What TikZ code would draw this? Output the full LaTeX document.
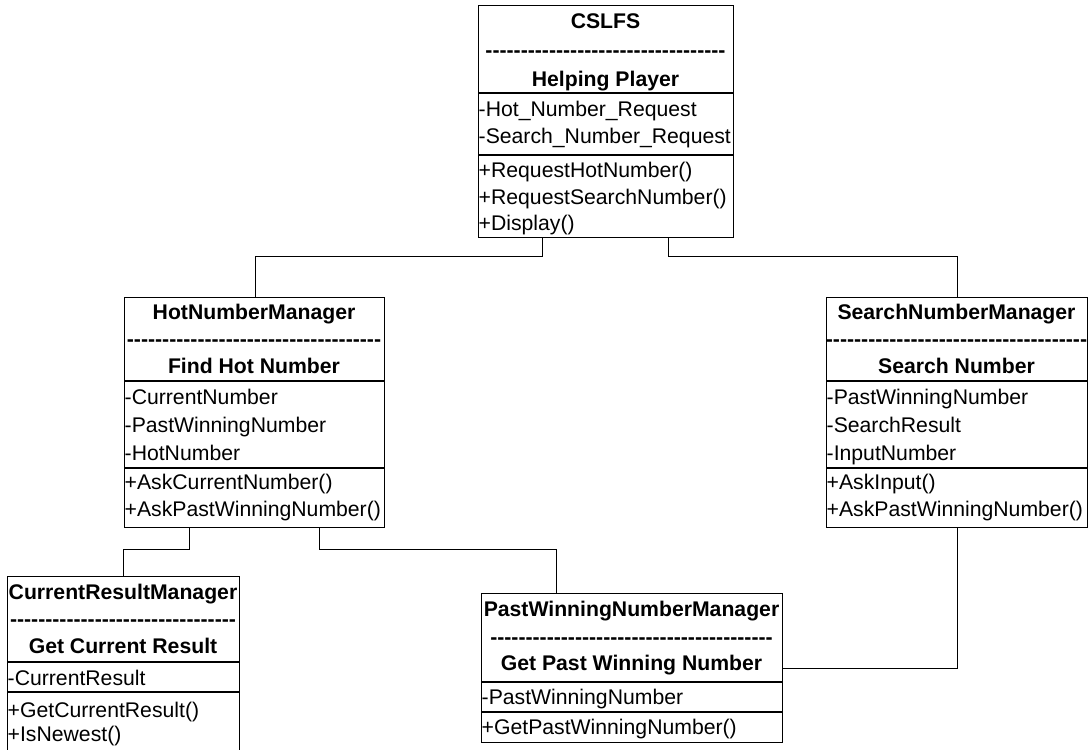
\documentclass[tikz,border=0pt]{standalone}
\usepackage{fontspec}
\setmainfont{Liberation Sans}
\newcommand\umlfont{\fontsize{21.2}{25}\selectfont}
\newcommand\umldashes[1]{\foreach \k in {1,...,#1}{\mbox{-}}}
\begin{document}
\begin{tikzpicture}[x=1pt,y=-1pt,
  box/.style={draw, line width=1.3pt, inner sep=0pt, anchor=north west},
  sep/.style={line width=1.3pt},
  conn/.style={line width=1pt},
  title/.style={anchor=base, inner sep=0pt, font=\umlfont\bfseries},
  member/.style={anchor=base west, inner sep=0pt, font=\umlfont},
]
\useasboundingbox (0,0) rectangle (1088,750);
\clip (0,0) rectangle (1088,750);

% ---------- CSLFS ----------
\node[box, minimum width=255pt, minimum height=232pt] (cslfs) at (478,5) {};
\draw[sep] (478,93) -- (733,93);
\draw[sep] (478,155) -- (733,155);
\node[title] (cslfsT1) at (605.5,28) {CSLFS};
\node[title] (cslfsT2) at (605.5,57) {\umldashes{34}};
\node[title] (cslfsT3) at (605.5,86) {Helping Player};
\node[member] (cslfsA1) at (478.5,116) {-Hot\_Number\_Request};
\node[member] (cslfsA2) at (478.5,143) {-Search\_Number\_Request};
\node[member] (cslfsM1) at (478.5,177) {+RequestHotNumber()};
\node[member] (cslfsM2) at (478.5,204) {+RequestSearchNumber()};
\node[member] (cslfsM3) at (478.5,230) {+Display()};

% ---------- HotNumberManager ----------
\node[box, minimum width=260pt, minimum height=230pt] (hnm) at (124,297) {};
\draw[sep] (124,381) -- (384,381);
\draw[sep] (124,468) -- (384,468);
\node[title] (hnmT1) at (254,319) {HotNumberManager};
\node[title] (hnmT2) at (254,346) {\umldashes{36}};
\node[title] (hnmT3) at (254,373) {Find Hot Number};
\node[member] (hnmA1) at (124.5,404) {-CurrentNumber};
\node[member] (hnmA2) at (124.5,432) {-PastWinningNumber};
\node[member] (hnmA3) at (124.5,460) {-HotNumber};
\node[member] (hnmM1) at (124.5,489) {+AskCurrentNumber()};
\node[member] (hnmM2) at (124.5,516) {+AskPastWinningNumber()};

% ---------- SearchNumberManager ----------
\node[box, minimum width=261pt, minimum height=230pt] (snm) at (826,297) {};
\draw[sep] (826,381) -- (1087,381);
\draw[sep] (826,468) -- (1087,468);
\node[title] (snmT1) at (956.5,319) {SearchNumberManager};
\node[title] (snmT2) at (956.5,346) {\umldashes{37}};
\node[title] (snmT3) at (956.5,373) {Search Number};
\node[member] (snmA1) at (826.5,404) {-PastWinningNumber};
\node[member] (snmA2) at (826.5,432) {-SearchResult};
\node[member] (snmA3) at (826.5,460) {-InputNumber};
\node[member] (snmM1) at (826.5,489) {+AskInput()};
\node[member] (snmM2) at (826.5,516) {+AskPastWinningNumber()};

% ---------- CurrentResultManager ----------
\node[box, minimum width=232pt, minimum height=190pt] (crm) at (7,576) {};
\draw[sep] (7,662) -- (239,662);
\draw[sep] (7,692) -- (239,692);
\node[title] (crmT1) at (123,599) {CurrentResultManager};
\node[title] (crmT2) at (123,626) {\umldashes{32}};
\node[title] (crmT3) at (123,653) {Get Current Result};
\node[member] (crmA1) at (7.5,685) {-CurrentResult};
\node[member] (crmM1) at (7.5,717) {+GetCurrentResult()};
\node[member] (crmM2) at (7.5,741) {+IsNewest()};

% ---------- PastWinningNumberManager ----------
\node[box, minimum width=301pt, minimum height=149pt] (pwnm) at (481,593) {};
\draw[sep] (481,682) -- (782,682);
\draw[sep] (481,712) -- (782,712);
\node[title] (pwnmT1) at (631.5,616) {PastWinningNumberManager};
\node[title] (pwnmT2) at (631.5,644) {\umldashes{40}};
\node[title] (pwnmT3) at (631.5,670) {Get Past Winning Number};
\node[member] (pwnmA1) at (481.5,704) {-PastWinningNumber};
\node[member] (pwnmM1) at (481.5,734) {+GetPastWinningNumber()};

% ---------- connectors ----------
\draw[conn] ([xshift=-63.5pt]cslfs.south) -- ++(0,18) -| ([xshift=1pt]hnm.north);
\draw[conn] ([xshift=62.5pt]cslfs.south) -- ++(0,18) -| ([xshift=0.5pt]snm.north);
\draw[conn] ([xshift=-65pt]hnm.south) -- ++(0,21) -| (crm.north);
\draw[conn] ([xshift=65pt]hnm.south) -- ++(0,21) -| ([xshift=-75.5pt]pwnm.north);
\draw[conn] ([xshift=0.5pt]snm.south) |- (pwnm.east);
\end{tikzpicture}
\end{document}
